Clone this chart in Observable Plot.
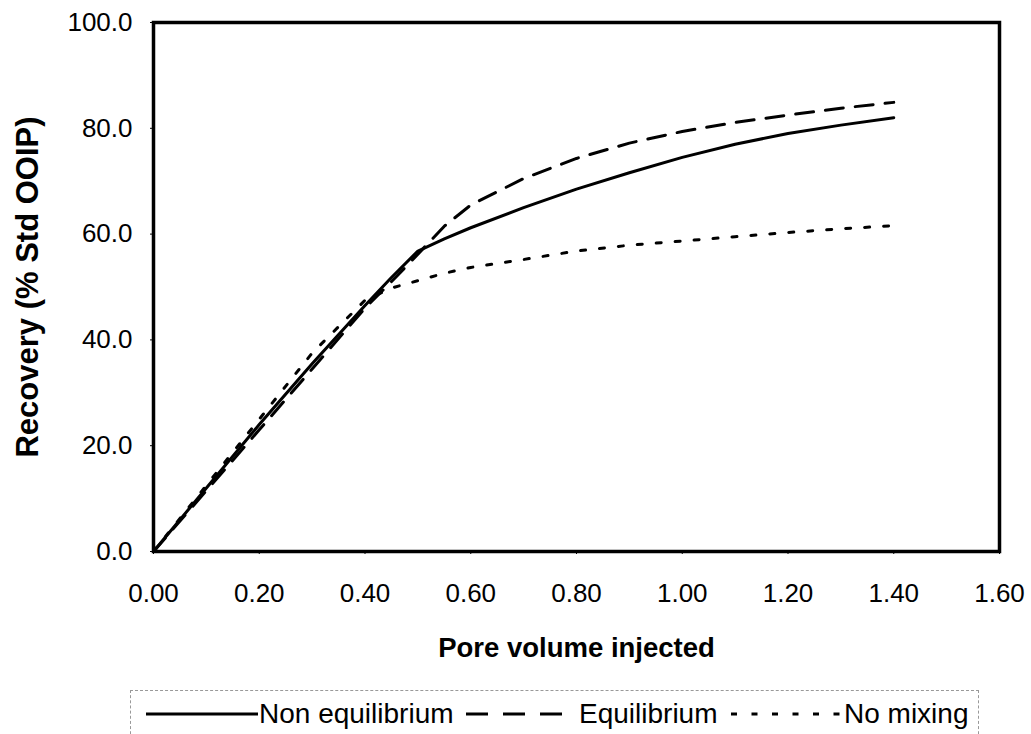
<!DOCTYPE html>
<html>
<head>
<meta charset="utf-8">
<script src="https://cdn.jsdelivr.net/npm/d3@7"></script>
<script src="https://cdn.jsdelivr.net/npm/@observablehq/plot@0.6"></script>
<style>
  body { margin: 0; background: #fff; font-family: "Liberation Sans", Arial, sans-serif; }
  #wrap { position: relative; width: 1031px; height: 734px; overflow: hidden; }
  #chart { position: absolute; left: 0; top: 0; }
  #legend {
    position: absolute; left: 130px; top: 690px; width: 849px; height: 70px;
    border: 1px dashed #999; box-sizing: border-box;
    font-family: "Liberation Sans", Arial, sans-serif;
    font-size: 28px; color: #000;
  }
  #legend svg { position: absolute; display: block; }
  #legend span { position: absolute; white-space: nowrap; line-height: 1; }
</style>
</head>
<body>
<div id="wrap">
  <div id="chart"></div>
  <div id="legend"></div>
</div>
<script>
const poreVolume = [0, 0.1, 0.2, 0.3, 0.4, 0.45, 0.5, 0.55, 0.6, 0.7, 0.8, 0.9, 1.0, 1.1, 1.2, 1.3, 1.4];
const nonEquilibrium = [0, 12, 24, 35.5, 46.5, 51.8, 56.8, 59.1, 61.2, 65, 68.5, 71.6, 74.5, 77, 79, 80.6, 82.0];
const equilibrium = [0, 11.5, 23, 34.5, 46, 51, 56.2, 61.5, 65.5, 70.5, 74.3, 77.2, 79.4, 81.1, 82.5, 83.8, 84.9];
const noMixing = [0, 12.5, 25, 37.5, 47.5, 49.8, 51.2, 52.6, 53.7, 55.2, 56.8, 57.9, 58.7, 59.5, 60.3, 61, 61.6];
const seriesNames = ["Non equilibrium", "Equilibrium", "No mixing"];
const xTicks = [0, 0.2, 0.4, 0.6, 0.8, 1.0, 1.2, 1.4, 1.6];
const yTicks = [0, 20, 40, 60, 80, 100];

const dashes = { "Non equilibrium": null, "Equilibrium": "18,12", "No mixing": "5,14" };
const seriesValues = [nonEquilibrium, equilibrium, noMixing];

const data = [];
seriesNames.forEach((s, i) => poreVolume.forEach((x, j) => data.push({ series: s, x, y: seriesValues[i][j] })));

const chart = Plot.plot({
  width: 1031,
  height: 680,
  marginLeft: 153,
  marginTop: 22,
  marginRight: 32,
  marginBottom: 129,
  style: { fontFamily: "'Liberation Sans', Arial, sans-serif", fontSize: "26px", color: "#000", background: "#fff", overflow: "visible" },
  x: { domain: [0, 1.6], ticks: xTicks, tickFormat: d3.format(".2f"), label: null },
  y: { domain: [0, 100], ticks: yTicks, tickFormat: d3.format(".1f"), label: null },
  marks: [
    ...seriesNames.map(s => Plot.line(data.filter(d => d.series === s), {
      x: "x", y: "y", stroke: "#000", strokeWidth: 3,
      strokeDasharray: dashes[s], curve: "linear"
    })),
    Plot.frame({ stroke: "#000", strokeWidth: 3.5 }),
    Plot.axisX({ ticks: xTicks, tickFormat: d3.format(".2f"), tickSize: 3, tickPadding: 29, fontSize: 26, label: null }),
    Plot.axisY({ ticks: yTicks, tickFormat: d3.format(".1f"), tickSize: 3, tickPadding: 18, fontSize: 26, label: null }),
    Plot.text(["Pore volume injected"], { frameAnchor: "bottom", lineAnchor: "middle", textAnchor: "middle", dy: 97, fontWeight: "bold", fontSize: 27.5 }),
    Plot.text(["Recovery (% Std OOIP)"], { frameAnchor: "left", lineAnchor: "middle", textAnchor: "middle", dx: -125, rotate: -90, fontWeight: "bold", fontSize: 31 })
  ]
});
document.getElementById("chart").appendChild(chart);

// legend (positions relative to legend box at left 130, top 690)
const legend = document.getElementById("legend");
const legendItems = [
  { name: "Non equilibrium", x1: 15, x2: 127, dash: null, textX: 128 },
  { name: "Equilibrium", x1: 335, x2: 431, dash: "22,15", textX: 448 },
  { name: "No mixing", x1: 600, x2: 713, dash: "6,14.5", textX: 713 }
];
legendItems.forEach(it => {
  const svg = d3.create("svg")
    .attr("width", it.x2 - it.x1).attr("height", 10)
    .style("left", it.x1 + "px").style("top", "18px");
  svg.append("line").attr("x1", 0).attr("x2", it.x2 - it.x1).attr("y1", 5).attr("y2", 5)
    .attr("stroke", "#000").attr("stroke-width", 3)
    .attr("stroke-dasharray", it.dash);
  legend.appendChild(svg.node());
  const t = document.createElement("span");
  t.textContent = it.name;
  t.style.left = it.textX + "px";
  t.style.top = "9px";
  legend.appendChild(t);
});
</script>
</body>
</html>
